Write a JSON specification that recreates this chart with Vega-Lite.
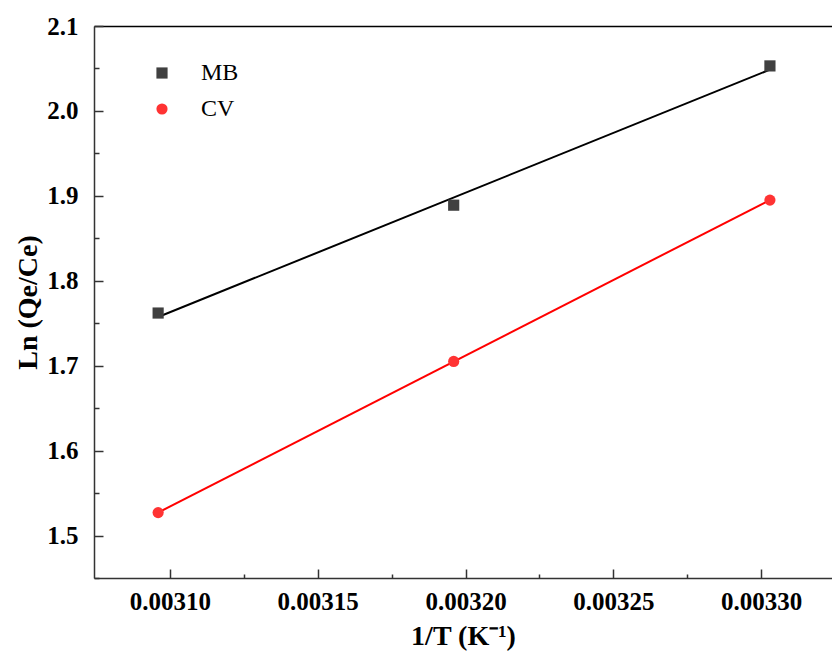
{
  "$schema": "https://vega.github.io/schema/vega-lite/v6.json",
  "width": 738,
  "height": 552,
  "autosize": {"type": "none"},
  "padding": {"left": 94, "top": 26, "right": 0, "bottom": 77},
  "background": "white",
  "config": {
    "view": {"stroke": null},
    "font": "Liberation Serif"
  },
  "data": {
    "values": [
      {"series": "MB", "invT": 0.003096, "lnK": 1.762},
      {"series": "MB", "invT": 0.003196, "lnK": 1.889},
      {"series": "MB", "invT": 0.003303, "lnK": 2.053},
      {"series": "CV", "invT": 0.003096, "lnK": 1.527},
      {"series": "CV", "invT": 0.003196, "lnK": 1.705},
      {"series": "CV", "invT": 0.003303, "lnK": 1.895}
    ]
  },
  "layer": [
    {
      "transform": [
        {"filter": {"field": "series", "equal": "MB"}},
        {"regression": "lnK", "on": "invT"}
      ],
      "mark": {"type": "line", "strokeWidth": 2, "color": "#000000"},
      "encoding": {
        "x": {
          "field": "invT", "type": "quantitative",
          "scale": {"domain": [0.0030743, 0.003324], "nice": false, "zero": false},
          "axis": {"orient": "top", "labels": false, "ticks": false, "grid": false, "title": null, "domainColor": "#000000", "domainWidth": 1.5}
        },
        "y": {
          "field": "lnK", "type": "quantitative",
          "scale": {"domain": [1.45, 2.1], "nice": false, "zero": false},
          "axis": {
            "orient": "left",
            "values": [1.45, 1.55, 1.65, 1.75, 1.85, 1.95, 2.05],
            "labels": false, "domain": false, "grid": false, "title": null,
            "tickSize": -5, "tickColor": "#333333", "tickWidth": 1.5
          }
        }
      }
    },
    {
      "transform": [
        {"filter": {"field": "series", "equal": "CV"}},
        {"regression": "lnK", "on": "invT"}
      ],
      "mark": {"type": "line", "strokeWidth": 2, "color": "#FF0000"},
      "encoding": {
        "x": {"field": "invT", "type": "quantitative", "axis": null},
        "y": {"field": "lnK", "type": "quantitative", "axis": null}
      }
    },
    {
      "mark": {"type": "point", "filled": true, "opacity": 0},
      "encoding": {
        "x": {
          "field": "invT", "type": "quantitative",
          "axis": {
            "orient": "bottom",
            "values": [0.003125, 0.003175, 0.003225, 0.003275],
            "labels": false, "domain": false, "grid": false, "title": null,
            "tickSize": -4, "tickColor": "#333333", "tickWidth": 1.5
          }
        },
        "y": {"field": "lnK", "type": "quantitative", "axis": null}
      }
    },
    {
      "mark": {"type": "point", "filled": true, "opacity": 1, "size": 125},
      "encoding": {
        "x": {
          "field": "invT", "type": "quantitative",
          "axis": {
            "orient": "bottom",
            "values": [0.003100, 0.003150, 0.003200, 0.003250, 0.003300],
            "format": ".5f",
            "tickSize": -9,
            "tickColor": "#333333",
            "tickWidth": 1.5,
            "domainColor": "#333333",
            "domainWidth": 1.5,
            "grid": false,
            "labelFont": "Liberation Serif",
            "labelFontWeight": "bold",
            "labelFontSize": 25,
            "labelColor": "#000000",
            "labelPadding": 20,
            "labelOverlap": false,
            "title": "1/T (K⁻¹)",
            "titleFont": "Liberation Serif",
            "titleFontWeight": "bold",
            "titleFontSize": 28,
            "titleColor": "#000000",
            "titlePadding": 8
          }
        },
        "y": {
          "field": "lnK", "type": "quantitative",
          "axis": {
            "orient": "left",
            "values": [1.5, 1.6, 1.7, 1.8, 1.9, 2.0, 2.1],
            "format": ".1f",
            "tickSize": -9,
            "tickColor": "#333333",
            "tickWidth": 1.5,
            "domainColor": "#333333",
            "domainWidth": 1.5,
            "grid": false,
            "labelFont": "Liberation Serif",
            "labelFontWeight": "bold",
            "labelFontSize": 25,
            "labelColor": "#000000",
            "labelPadding": 25,
            "labelOverlap": false,
            "title": "Ln (Qe/Ce)",
            "titleFont": "Liberation Serif",
            "titleFontWeight": "bold",
            "titleFontSize": 28,
            "titleColor": "#000000",
            "titlePadding": 4
          }
        },
        "color": {
          "field": "series", "type": "nominal",
          "scale": {"domain": ["MB", "CV"], "range": ["#404040", "#FF3333"]},
          "legend": {
            "orient": "none",
            "legendX": 56,
            "legendY": 35,
            "title": null,
            "labelFont": "Liberation Serif",
            "labelFontSize": 24,
            "labelColor": "#000000",
            "labelOffset": 27,
            "symbolSize": 125,
            "rowPadding": 12
          }
        },
        "shape": {
          "field": "series", "type": "nominal",
          "scale": {"domain": ["MB", "CV"], "range": ["square", "circle"]}
        }
      }
    }
  ],
  "resolve": {"axis": {"x": "independent", "y": "independent"}}
}
